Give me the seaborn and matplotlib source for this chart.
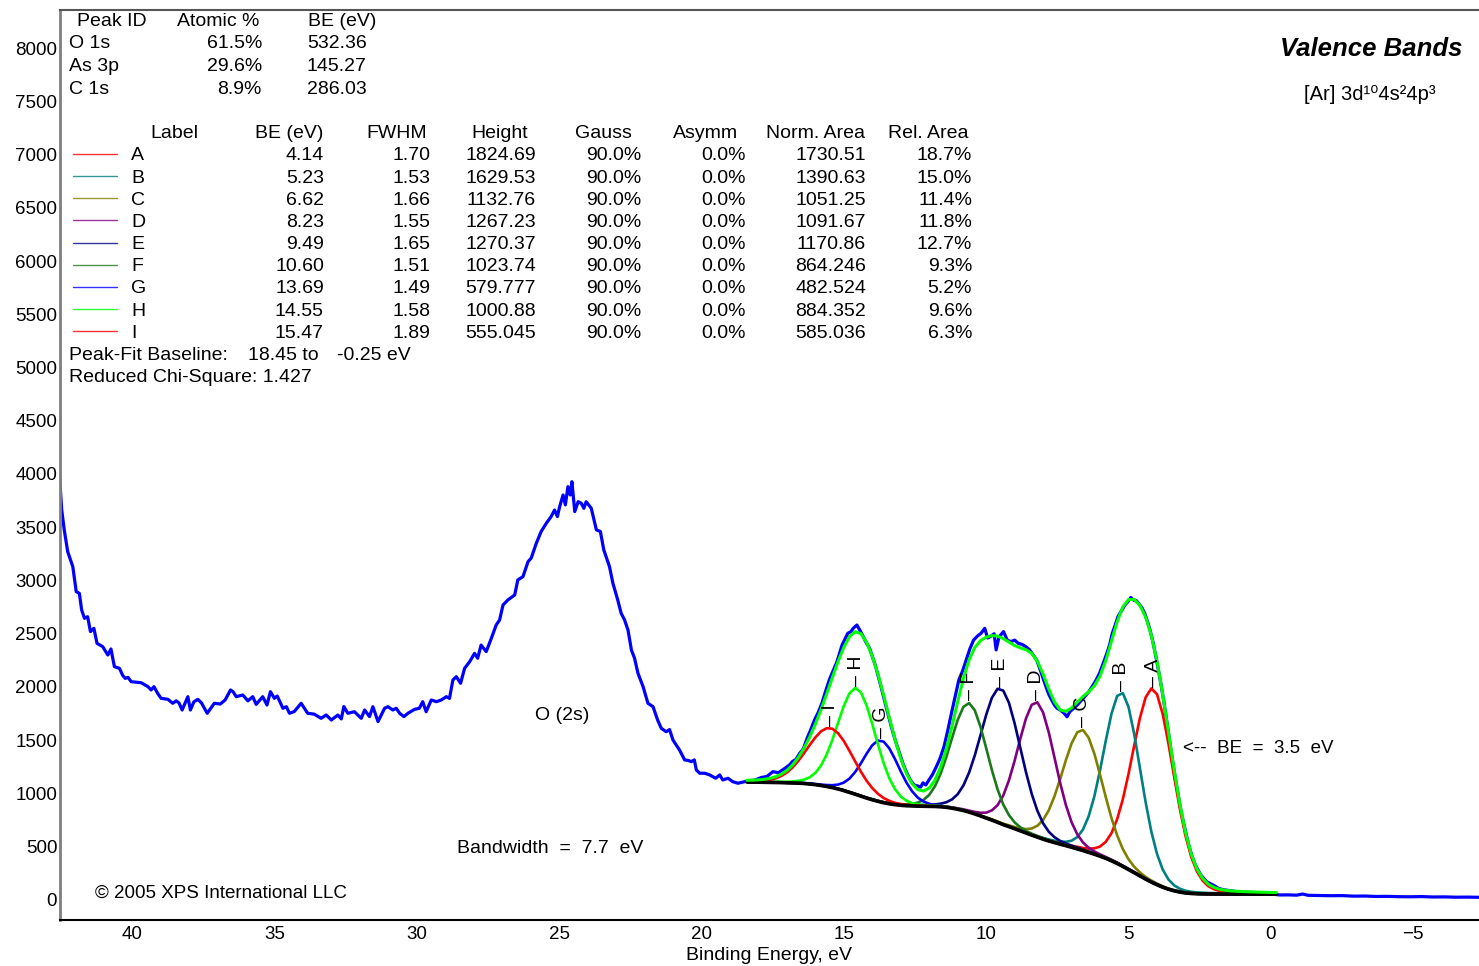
import numpy as np
import pandas as pd
import seaborn as sns
import matplotlib
matplotlib.use('Agg')
from matplotlib import pyplot as plt
from matplotlib.lines import Line2D

be_raw = [42.55, 42.47, 42.38, 42.26, 42.08, 41.96, 41.85, 41.77, 41.67, 41.56, 41.46, 41.34, 41.23, 41.03,
          40.85, 40.74, 40.62, 40.44, 40.33, 40.24, 40.14, 40.03, 39.85, 39.68, 39.44, 39.33, 39.23, 39.10,
          38.98, 38.74, 38.57, 38.45, 38.35, 38.24, 38.04, 37.95, 37.83, 37.69, 37.56, 37.36, 37.11, 36.90,
          36.73, 36.54, 36.45, 36.34, 36.11, 35.93, 35.76, 35.64, 35.41, 35.26, 35.14, 35.00, 34.90, 34.70,
          34.58, 34.47, 34.30, 34.06, 33.83, 33.60, 33.36, 33.18, 33.00, 32.77, 32.65, 32.56, 32.42, 32.19,
          31.95, 31.83, 31.66, 31.54, 31.36, 31.13, 31.01, 30.84, 30.72, 30.60, 30.45, 30.31, 30.08, 29.91,
          29.79, 29.67, 29.49, 29.31, 29.14, 28.96, 28.85, 28.73, 28.61, 28.46, 28.32, 28.14, 27.97, 27.86,
          27.74, 27.56, 27.38, 27.21, 27.09, 26.97, 26.80, 26.56, 26.45, 26.27, 26.09, 25.98, 25.80, 25.63,
          25.45, 25.28, 25.16, 25.06, 24.98, 24.86, 24.78, 24.69, 24.61, 24.55, 24.45, 24.33, 24.22, 24.13,
          24.05, 23.87, 23.69, 23.55, 23.43, 23.23, 23.11, 22.94, 22.82, 22.70, 22.58, 22.46, 22.35, 22.23,
          22.05, 21.88, 21.70, 21.54, 21.41, 21.24, 21.12, 21.00, 20.77, 20.59, 20.46, 20.36, 20.25, 20.18,
          20.06, 19.88, 19.71, 19.50, 19.36, 19.25, 19.07, 18.90, 18.72, 18.48, 18.30, 18.11, 17.90, 17.70,
          17.49, 17.30, 17.07, 16.90, 16.81, 16.68, 16.55, 16.42, 16.29, 16.16, 16.03, 15.90, 15.77, 15.64,
          15.51, 15.38, 15.25, 15.06, 14.86, 14.75, 14.67, 14.54, 14.45, 14.35, 14.22, 14.09, 13.89, 13.70,
          13.50, 13.30, 13.17, 13.04, 12.91, 12.78, 12.65, 12.53, 12.40, 12.30, 12.22, 12.12, 12.01, 11.88,
          11.75, 11.62, 11.48, 11.35, 11.22, 11.09, 10.96, 10.83, 10.70, 10.57, 10.44, 10.30, 10.18, 10.05,
          9.95, 9.85, 9.72, 9.65, 9.55, 9.39, 9.26, 9.13, 9.00, 8.87, 8.74, 8.61, 8.48, 8.35, 8.22, 8.10,
          7.90, 7.80, 7.70, 7.60, 7.51, 7.38, 7.26, 7.16, 7.06, 6.93, 6.80, 6.67, 6.54, 6.41, 6.28, 6.15,
          6.02, 5.89, 5.76, 5.66, 5.57, 5.47, 5.37, 5.24, 5.11, 5.01, 4.92, 4.82, 4.72, 4.62, 4.53, 4.43,
          4.33, 4.24, 4.14, 4.05, 3.95, 3.85, 3.74, 3.64, 3.54, 3.45, 3.35, 3.25, 3.16, 3.03, 2.90, 2.77,
          2.64, 2.45, 2.25, 2.10, 1.95, 1.86, 1.70, 1.50, 1.35, 1.20, 1.00, 0.80, 0.55, 0.35, 0.15, -0.05,
          -0.32, -0.60, -0.90, -1.12, -1.30, -1.70, -2.10, -2.50, -2.90, -3.30, -3.70, -4.10, -4.50, -4.90,
          -5.30, -5.70, -6.10, -6.50, -6.90, -7.31]
cps_raw = [3991, 3662, 3474, 3271, 3130, 2895, 2879, 2723, 2645, 2660, 2520, 2551, 2410, 2379,
           2300, 2357, 2191, 2175, 2110, 2081, 2090, 2050, 2045, 2040, 2003, 1972, 2003, 1940,
           1894, 1884, 1847, 1870, 1850, 1784, 1909, 1784, 1860, 1884, 1850, 1753, 1847, 1840,
           1878, 1972, 1955, 1909, 1925, 1870, 1909, 1837, 1909, 1831, 1956, 1894, 1915, 1800,
           1815, 1753, 1770, 1847, 1753, 1745, 1706, 1737, 1690, 1737, 1700, 1816, 1753, 1768,
           1706, 1784, 1722, 1815, 1675, 1800, 1815, 1784, 1800, 1753, 1722, 1753, 1790, 1800,
           1862, 1768, 1878, 1862, 1878, 1909, 1893, 2066, 2097, 2035, 2175, 2238, 2316, 2270,
           2394, 2332, 2457, 2582, 2629, 2770, 2817, 2864, 3005, 3036, 3177, 3210, 3350, 3460,
           3537, 3600, 3662, 3600, 3694, 3803, 3710, 3881, 3803, 3928, 3647, 3740, 3725, 3678,
           3740, 3678, 3475, 3460, 3287, 3130, 2974, 2817, 2692, 2629, 2535, 2347, 2270, 2129,
           2003, 1847, 1815, 1690, 1612, 1580, 1600, 1502, 1408, 1315, 1310, 1299, 1315, 1221,
           1190, 1190, 1174, 1143, 1174, 1127, 1143, 1111, 1096, 1111, 1120, 1127, 1150, 1160,
           1205, 1195, 1236, 1270, 1299, 1320, 1377, 1420, 1518, 1600, 1690, 1760, 1847, 1960,
           2066, 2150, 2230, 2394, 2504, 2520, 2551, 2582, 2540, 2490, 2420, 2360, 2200, 2010,
           1800, 1596, 1480, 1377, 1270, 1189, 1120, 1080, 1070, 1060, 1100, 1080, 1127, 1180,
           1252, 1330, 1440, 1590, 1753, 1910, 2066, 2150, 2254, 2360, 2441, 2480, 2504, 2551,
           2460, 2473, 2500, 2348, 2470, 2520, 2440, 2426, 2440, 2410, 2400, 2379, 2350, 2301, 2250, 2160,
           2003, 1930, 1878, 1830, 1800, 1780, 1753, 1720, 1768, 1800, 1831, 1870, 1909, 1950, 2003, 2060,
           2128, 2220, 2316, 2400, 2504, 2580, 2661, 2720, 2775, 2805, 2840, 2815, 2810, 2775, 2745, 2690,
           2610, 2530, 2420, 2300, 2160, 2010, 1830, 1650, 1460, 1300, 1130, 980, 840, 680, 530, 410,
           320, 230, 170, 150, 128, 112, 98, 90, 85, 78, 75, 72, 70, 64, 60, 55,
           47, 48, 45, 56, 44, 42, 40, 41, 36, 37, 33, 34, 31, 30,
           32, 28, 29, 26, 27, 25]

# Shirley baseline of the fit, 18.4 eV down to -0.2 eV every 0.2 eV
baseline = [1108, 1107, 1106, 1105, 1104, 1103, 1102, 1100, 1099, 1097, 1094, 1089, 1083, 1075, 1066,
            1055, 1042, 1027, 1010, 993, 975, 957, 941, 926, 913, 903, 895, 889, 885, 883, 881, 880,
            879, 878, 875, 870, 862, 852, 840, 825, 808, 789, 769, 750, 729, 707, 689, 669, 649, 629,
            609, 590, 571, 554, 539, 524, 510, 495, 480, 464, 447, 430, 411, 391, 368, 343, 315, 286,
            256, 226, 196, 168, 143, 120, 101, 86, 74, 66, 61, 58, 57, 56, 56, 55, 55, 55, 55, 55,
            55, 55, 55, 55, 55, 55]

# peak table
labels = ['A', 'B', 'C', 'D', 'E', 'F', 'G', 'H', 'I']
centres = [4.14, 5.23, 6.62, 8.23, 9.49, 10.60, 13.69, 14.55, 15.47]
fwhm = [1.70, 1.53, 1.66, 1.55, 1.65, 1.51, 1.49, 1.58, 1.89]
heights = [1824.69, 1629.53, 1132.76, 1267.23, 1270.37, 1023.74, 579.777, 1000.88, 555.045]
gauss_pct = [90.0] * 9
asymm_pct = [0.0] * 9
norm_area = ['1730.51', '1390.63', '1051.25', '1091.67', '1170.86', '864.246', '482.524', '884.352', '585.036']
rel_area = [18.7, 15.0, 11.4, 11.8, 12.7, 9.3, 5.2, 9.6, 6.3]
peak_colors = ['#ff0000', '#008080', '#808000', '#800080', '#000080', '#1a7a1a', '#0000ff', '#00ff00', '#ff0000']

# atomic composition table
peak_ids = ['O 1s', 'As 3p', 'C 1s']
atomic_pct = [61.5, 29.6, 8.9]
core_be = ['532.36', '145.27', '286.03']

W, H = 1479, 966

sns.set_theme(style='white')
plt.rcParams['font.family'] = ['Liberation Sans', 'DejaVu Sans']
plt.rcParams['text.color'] = 'black'
plt.rcParams['axes.labelcolor'] = 'black'
plt.rcParams['xtick.color'] = 'black'
plt.rcParams['ytick.color'] = 'black'

fit_be = np.round(18.4 - 0.2 * np.arange(len(baseline)), 1)
base = np.array(baseline, dtype=float)


def gl(x, c, f, h, g):
    d = 4 * (x - c) ** 2 / f ** 2
    return h * (g * np.exp(-np.log(2) * d) + (1 - g) / (1 + d))


peaks = [gl(fit_be, c, f, h, g / 100) for c, f, h, g in zip(centres, fwhm, heights, gauss_pct)]
envelope = base + np.sum(peaks, axis=0)

spec = pd.DataFrame({'be': be_raw, 'cps': cps_raw})

fig = plt.figure(figsize=(W / 100, H / 100), dpi=100)
ax = fig.add_axes([60 / W, 46 / H, 1 - 60 / W, 910 / H])

sns.lineplot(data=spec, x='be', y='cps', color='#0000ff', lw=2.3, ax=ax, estimator=None)
for p, col in zip(peaks, peak_colors):
    sns.lineplot(x=fit_be, y=base + p, color=col, lw=1.9, ax=ax, estimator=None)
sns.lineplot(x=fit_be, y=base, color='black', lw=2.6, ax=ax, estimator=None)
sns.lineplot(x=fit_be, y=envelope, color='#00ff00', lw=2.2, ax=ax, estimator=None)

# peak labels above each component
for lab, c, p in zip(labels, centres, peaks):
    top = np.interp(c, fit_be[::-1], (base + p)[::-1])
    ax.annotate('\u2013 ' + lab, (c, top), xytext=(0, 2), textcoords='offset points',
                rotation=90, ha='center', va='bottom', fontsize=14)

ax.set_xlim(42.53, -7.31)
ax.set_ylim(-188, 8357)
ax.set_xticks(np.arange(-5, 41, 5))
ax.set_yticks(np.arange(0, 8001, 500))
ax.set_xlabel('Binding Energy, eV', fontsize=14, labelpad=3)
ax.set_ylabel('')
ax.tick_params(axis='both', direction='in', length=10, width=1.2, labelsize=13.5, color='#333333', pad=2)
ax.tick_params(axis='x', pad=4)
ax.spines['right'].set_visible(False)
ax.spines['left'].set_color('#7f7f7f')
ax.spines['left'].set_linewidth(2)
ax.spines['top'].set_color('#555555')
ax.spines['top'].set_linewidth(1.5)
ax.spines['bottom'].set_color('black')
ax.spines['bottom'].set_linewidth(1.5)

ax.text(24.9, 1728, 'O (2s)', fontsize=14, ha='center', va='center')
ax.text(25.3, 488, 'Bandwidth  =  7.7  eV', fontsize=14, ha='center', va='center')
ax.text(3.09, 1418, '<--  BE  =  3.5  eV', fontsize=13.5, ha='left', va='center')
ax.text(41.29, 66, '\u00a9 2005 XPS International LLC', fontsize=13.5, ha='left', va='center')


def put(x, y, s, **kw):
    kw.setdefault('fontsize', 14)
    fig.text(x / W, 1 - (y + 2) / H, s, va='center', **kw)


put(1463, 47, 'Valence Bands', ha='right', fontsize=18.5, fontweight='bold', fontstyle='italic')
put(1370, 93, '[Ar] 3d\u00b9\u2070' + '4s\u00b24p\u00b3', ha='center', fontsize=14.5)

put(112, 20, 'Peak ID', ha='center')
put(218, 20, 'Atomic %', ha='center')
put(342, 20, 'BE (eV)', ha='center')
for i, (pid, pct, be) in enumerate(zip(peak_ids, atomic_pct, core_be)):
    y = 42 + 22.5 * i
    put(69, y, pid, ha='left')
    put(262, y, f'{pct:.1f}%', ha='right')
    put(307, y, be, ha='left')

heads = ['Label', 'BE (eV)', 'FWHM', 'Height', 'Gauss', 'Asymm', 'Norm. Area', 'Rel. Area']
head_x = [174, 289, 397, 500, 603, 706, 816, 928]
for hx, t in zip(head_x, heads):
    put(hx, 131, t, ha='center')

for i in range(len(labels)):
    y = 154 + 22.15 * i
    fig.add_artist(Line2D([73 / W, 117 / W], [1 - y / H, 1 - y / H], color=peak_colors[i], lw=1.0, alpha=0.8))
    put(131, y, labels[i], ha='left')
    put(324, y, f'{centres[i]:.2f}', ha='right')
    put(430, y, f'{fwhm[i]:.2f}', ha='right')
    put(536, y, f'{heights[i]:g}' if heights[i] < 1000 else f'{heights[i]:.2f}', ha='right')
    put(641, y, f'{gauss_pct[i]:.1f}%', ha='right')
    put(746, y, f'{asymm_pct[i]:.1f}%', ha='right')
    put(866, y, norm_area[i], ha='right')
    put(972, y, f'{rel_area[i]:.1f}%', ha='right')

put(69, 354, 'Peak-Fit Baseline:', ha='left')
put(248, 354, '18.45 to', ha='left')
put(337, 354, '-0.25 eV', ha='left')
put(69, 376, 'Reduced Chi-Square: 1.427', ha='left')

fig.savefig('out.png', dpi=100)
